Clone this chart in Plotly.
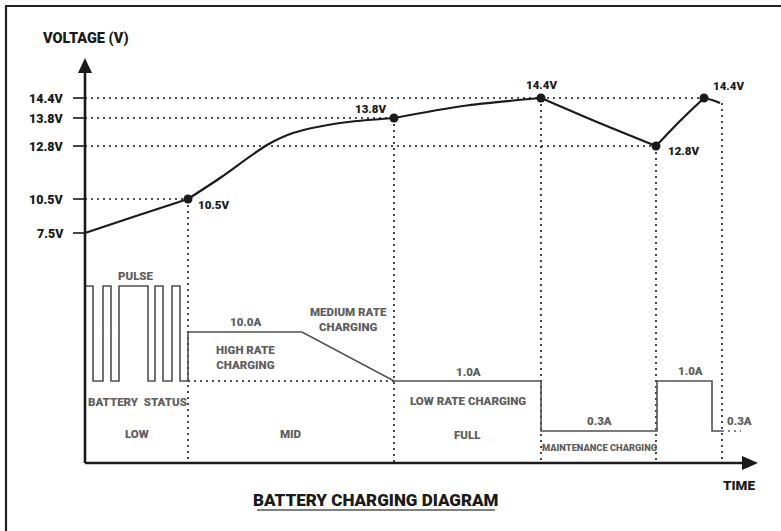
import plotly.graph_objects as go

# ---------------- data (schematic units: time from origin, height above time axis) -------------
# voltage axis levels (nonlinear schematic scale)
V_LABELS = ["14.4V", "13.8V", "12.8V", "10.5V", "7.5V"]
V_LEVEL = [365, 345, 317, 264, 230]

# key points on the voltage curve (dots)
DOT_T = [103, 309, 456, 571, 619]
DOT_V = [264, 345, 365, 317, 365]
DOT_LABELS = ["10.5V", "13.8V", "14.4V", "12.8V", "14.4V"]

# voltage curve, split into segments between dots
CURVE_SEGMENTS_T = [
    [0, 48, 103],
    [103, 135, 182, 208, 255, 309],
    [309, 378, 456],
    [456, 512, 571],
    [571, 595, 619],
    [619, 627, 635],
]
CURVE_SEGMENTS_V = [
    [230, 246, 264],
    [264, 285, 318, 330, 340, 345],
    [345, 357, 365],
    [365, 341, 317],
    [317, 342, 365],
    [365, 363, 360],
]

# stage boundaries (dotted verticals) and the voltage height each starts from
STAGE_T = [103, 309, 456, 571, 637]
STAGE_TOP = [264, 345, 365, 317, 360]

# horizontal guide extents for each voltage level
GUIDE_END_T = [619, 309, 571, 103, None]

# current waveform
CUR_T = [0, 8, 8, 18, 18, 26, 26, 34, 34, 63, 63, 70, 70, 78, 78, 87, 87, 95, 95, 103,
         103, 217, 309, 456, 456, 572, 572, 627, 627, 637]
CUR_H = [177, 177, 82, 82, 177, 177, 82, 82, 177, 177, 82, 82, 177, 177, 82, 82, 177, 177, 82, 82,
         131, 131, 82, 82, 32, 32, 82, 82, 32, 32]

# current / stage texts
TEXT_LABELS = ["PULSE", "10.0A", "HIGH RATE<br>CHARGING", "MEDIUM RATE<br>CHARGING",
               "BATTERY  STATUS", "LOW", "MID", "1.0A", "LOW RATE CHARGING", "FULL",
               "0.3A", "1.0A", "0.3A"]
TEXT_T = [51, 160, 160, 263, 52, 52, 206, 383, 383, 382, 514, 605, 654]
TEXT_H = [187, 141, 106, 144, 61, 29, 29, 91, 62, 28, 42, 92, 42]

FONT = "Roboto, Liberation Sans, sans-serif"
BLACK = "#1a1a1a"
GRAY = "#5e5e5e"

fig = go.Figure()

# voltage curve
for ts, vs in zip(CURVE_SEGMENTS_T, CURVE_SEGMENTS_V):
    fig.add_trace(go.Scatter(x=ts, y=vs, mode="lines",
                             line=dict(color=BLACK, width=2.2, shape="spline", smoothing=0.8),
                             hoverinfo="skip", showlegend=False))

# horizontal dotted guides and ticks
for lab, lvl, end in zip(V_LABELS, V_LEVEL, GUIDE_END_T):
    if end is not None:
        fig.add_trace(go.Scatter(x=[0, end], y=[lvl, lvl], mode="lines",
                                 line=dict(color=BLACK, width=1.6, dash="2px,4px"),
                                 hoverinfo="skip", showlegend=False))
    fig.add_trace(go.Scatter(x=[-12, 0], y=[lvl, lvl], mode="lines",
                             line=dict(color=BLACK, width=1.6),
                             hoverinfo="skip", showlegend=False))
    fig.add_annotation(x=-19, y=lvl, text=lab, showarrow=False, xanchor="right", yanchor="middle",
                       font=dict(family=FONT, size=12.5, color=BLACK, weight=900))

# vertical dotted stage lines
for t, top in zip(STAGE_T, STAGE_TOP):
    fig.add_trace(go.Scatter(x=[t, t], y=[top, 0], mode="lines",
                             line=dict(color=BLACK, width=1.6, dash="2px,4px"),
                             hoverinfo="skip", showlegend=False))

# dotted base line in MID stage and tail after last step
fig.add_trace(go.Scatter(x=[103, 309], y=[82, 82], mode="lines",
                         line=dict(color=BLACK, width=1.5, dash="2px,4px"),
                         hoverinfo="skip", showlegend=False))
fig.add_trace(go.Scatter(x=[637, 656], y=[32, 32], mode="lines",
                         line=dict(color=GRAY, width=1.5, dash="2px,4px"),
                         hoverinfo="skip", showlegend=False))

# current waveform
fig.add_trace(go.Scatter(x=CUR_T, y=CUR_H, mode="lines",
                         line=dict(color="#505050", width=1.6),
                         hoverinfo="skip", showlegend=False))

# dots
fig.add_trace(go.Scatter(x=DOT_T, y=DOT_V, mode="markers",
                         marker=dict(color=BLACK, size=9),
                         hoverinfo="skip", showlegend=False))

# dot labels
dot_pos = [(8, -6, "left"), (-6, 9, "right"), (0, 13, "center"), (10, -5, "left"), (7, 12, "left")]
for t, v, lab, (dx, dy, xa) in zip(DOT_T, DOT_V, DOT_LABELS, dot_pos):
    fig.add_annotation(x=t + dx, y=v + dy, text=lab, showarrow=False, xanchor=xa, yanchor="middle",
                       font=dict(family=FONT, size=11.5, color=BLACK, weight=900))

# stage texts
for lab, t, h in zip(TEXT_LABELS, TEXT_T, TEXT_H):
    fig.add_annotation(x=t, y=h, text=lab, showarrow=False, xanchor="center", yanchor="middle",
                       font=dict(family=FONT, size=11.5, color=GRAY, weight=900))
fig.add_annotation(x=514, y=16, text="MAINTENANCE CHARGING", showarrow=False,
                   xanchor="center", yanchor="middle",
                   font=dict(family=FONT, size=9.3, color=GRAY, weight=900))

# axes
fig.add_trace(go.Scatter(x=[0, 0], y=[0, 392], mode="lines", line=dict(color=BLACK, width=2.6),
                         hoverinfo="skip", showlegend=False))
fig.add_trace(go.Scatter(x=[0, 660], y=[0, 0], mode="lines", line=dict(color=BLACK, width=2.6),
                         hoverinfo="skip", showlegend=False))
fig.add_shape(type="path", path="M -7 390 L 0 405 L 7 390 Z", fillcolor=BLACK, line=dict(width=0))
fig.add_shape(type="path", path="M 657 -7 L 673 0 L 657 7 Z", fillcolor=BLACK, line=dict(width=0))

# frame (top and left edges visible)
fig.add_trace(go.Scatter(x=[-79, -79, 700], y=[-70, 457, 457], mode="lines",
                         line=dict(color="#222222", width=2.2),
                         hoverinfo="skip", showlegend=False))

# axis titles
fig.add_annotation(x=0, y=425, text="VOLTAGE (V)", showarrow=False, xanchor="center", yanchor="middle",
                   font=dict(family=FONT, size=14.5, color=BLACK, weight=900))
fig.add_annotation(x=654, y=-22, text="TIME", showarrow=False, xanchor="center", yanchor="middle",
                   font=dict(family=FONT, size=13.5, color=BLACK, weight=900))

# title
fig.add_annotation(x=291, y=-37, text="BATTERY CHARGING DIAGRAM", showarrow=False,
                   xanchor="center", yanchor="middle",
                   font=dict(family=FONT, size=17, color=BLACK, weight=900))
fig.add_shape(type="line", x0=172, x1=410, y0=-47, y1=-47, line=dict(color="#555555", width=1.5))

fig.update_layout(
    width=781, height=531,
    margin=dict(l=0, r=0, t=0, b=0),
    paper_bgcolor="white", plot_bgcolor="white",
    xaxis=dict(range=[-85, 696], visible=False, fixedrange=True),
    yaxis=dict(range=[-68, 463], visible=False, fixedrange=True),
)

fig.write_html("out.html", config={"displayModeBar": False},
               post_script="document.body.style.margin='0';")
